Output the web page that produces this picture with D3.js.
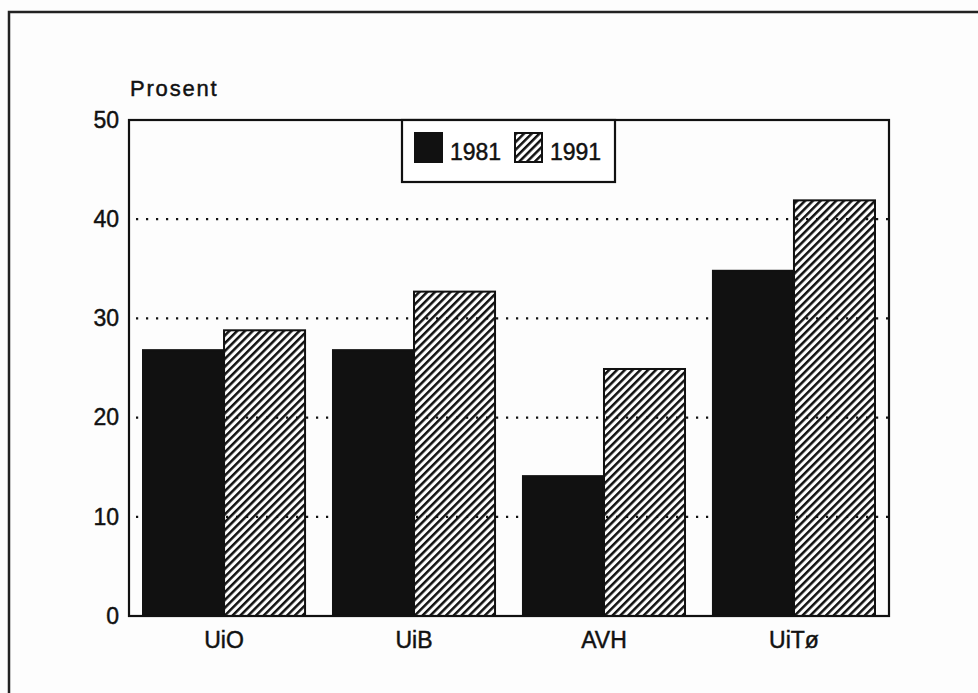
<!DOCTYPE html>
<html>
<head>
<meta charset="utf-8">
<script src="https://cdn.jsdelivr.net/npm/d3@7"></script>
<style>
  body { margin: 0; background: #fdfdfd; }
  svg { display: block; }
  text { font-family: "Liberation Sans", Arial, sans-serif; fill: #111; stroke: #111; stroke-width: 0.45px; }
</style>
</head>
<body>
<div id="chart"></div>
<script>
// data
const CATEGORIES = ["UiO", "UiB", "AVH", "UiTø"];
const SERIES = ["1981", "1991"];
const VALUES_1981 = [26.8, 26.8, 14.1, 34.8];
const VALUES_1991 = [28.8, 32.7, 24.9, 41.9];
const Y_TICKS = [0, 10, 20, 30, 40, 50];
const GRID_TICKS = [10, 20, 30, 40];

// frame
const FRAME_WIDTH = 978;
const FRAME_HEIGHT = 693;
const MARGINS = {left: 129, right: 89, top: 120, bottom: 77};

const VIS_WIDTH = FRAME_WIDTH - MARGINS.left - MARGINS.right;
const VIS_HEIGHT = FRAME_HEIGHT - MARGINS.top - MARGINS.bottom;

const FRAME = d3.select("#chart")
                .append("svg")
                  .attr("width", FRAME_WIDTH)
                  .attr("height", FRAME_HEIGHT);

// hatch pattern for 1991
FRAME.append("defs")
      .append("pattern")
        .attr("id", "hatch")
        .attr("patternUnits", "userSpaceOnUse")
        .attr("width", 5.5)
        .attr("height", 10)
        .attr("patternTransform", "rotate(45)")
      .append("rect")
        .attr("x", 0).attr("y", 0)
        .attr("width", 2.5).attr("height", 10)
        .attr("fill", "#111");

// outer page frame (left + top)
FRAME.append("path")
      .attr("d", "M9," + FRAME_HEIGHT + "V12H" + FRAME_WIDTH)
      .attr("fill", "none")
      .attr("stroke", "#222")
      .attr("stroke-width", 2.5);

const G = FRAME.append("g")
                .attr("transform", "translate(" + MARGINS.left + "," + MARGINS.top + ")");

// scales
const X_SCALE = d3.scaleBand()
                  .domain(CATEGORIES)
                  .range([0, VIS_WIDTH])
                  .paddingInner(0.147)
                  .paddingOuter(0.0737);

const X_INNER = d3.scaleBand()
                  .domain(SERIES)
                  .range([0, X_SCALE.bandwidth()]);

const Y_SCALE = d3.scaleLinear()
                  .domain([0, 50])
                  .range([VIS_HEIGHT, 0]);

// dotted gridlines
G.selectAll(".grid")
  .data(GRID_TICKS)
  .enter()
  .append("line")
    .attr("x1", 7)
    .attr("x2", VIS_WIDTH)
    .attr("y1", (d) => Y_SCALE(d))
    .attr("y2", (d) => Y_SCALE(d))
    .attr("stroke", "#111")
    .attr("stroke-width", 2.2)
    .attr("stroke-dasharray", "2.2,7.8");

// bars
const ROWS = CATEGORIES.map((c, i) => ({cat: c, values: [VALUES_1981[i], VALUES_1991[i]]}));

const groups = G.selectAll(".grp")
                .data(ROWS)
                .enter()
                .append("g")
                  .attr("transform", (d) => "translate(" + X_SCALE(d.cat) + ",0)");

groups.selectAll("rect")
      .data((d) => SERIES.map((s, j) => ({series: s, value: d.values[j]})))
      .enter()
      .append("rect")
        .attr("x", (d) => X_INNER(d.series))
        .attr("y", (d) => Y_SCALE(d.value))
        .attr("width", X_INNER.bandwidth())
        .attr("height", (d) => VIS_HEIGHT - Y_SCALE(d.value))
        .attr("fill", (d) => d.series === "1981" ? "#111" : "url(#hatch)")
        .attr("stroke", "#111")
        .attr("stroke-width", 2);

// plot box
G.append("rect")
  .attr("width", VIS_WIDTH)
  .attr("height", VIS_HEIGHT)
  .attr("fill", "none")
  .attr("stroke", "#111")
  .attr("stroke-width", 2.2);

// y axis
const yAxis = G.append("g")
                .call(d3.axisLeft(Y_SCALE).tickValues(Y_TICKS).tickSize(0).tickPadding(10))
                  .attr("font-size", "23px");
yAxis.select(".domain").remove();
yAxis.selectAll("text").attr("font-family", "Liberation Sans, Arial, sans-serif").attr("fill", "#111");

// x axis
const xAxis = G.append("g")
                .attr("transform", "translate(0," + VIS_HEIGHT + ")")
                .call(d3.axisBottom(X_SCALE).tickSize(0).tickPadding(16))
                  .attr("font-size", "23px");
xAxis.select(".domain").remove();
xAxis.selectAll("text").attr("font-family", "Liberation Sans, Arial, sans-serif").attr("fill", "#111");

// y axis title
FRAME.append("text")
      .attr("x", 130)
      .attr("y", 96)
      .attr("font-size", "22px")
      .attr("letter-spacing", "1.8px")
      .text("Prosent");

// legend
const LEGEND = FRAME.append("g").attr("transform", "translate(402,120)");
LEGEND.append("rect")
        .attr("width", 213)
        .attr("height", 62)
        .attr("fill", "#fff")
        .attr("stroke", "#111")
        .attr("stroke-width", 2.2);

const LEG_X = [13, 113];
const items = LEGEND.selectAll(".item")
                    .data(SERIES)
                    .enter()
                    .append("g")
                      .attr("transform", (d, i) => "translate(" + LEG_X[i] + ",13)");
items.append("rect")
      .attr("width", 27)
      .attr("height", 29)
      .attr("fill", (d) => d === "1981" ? "#111" : "url(#hatch)")
      .attr("stroke", "#111")
      .attr("stroke-width", 2);
items.append("text")
      .attr("x", 35)
      .attr("y", 27)
      .attr("font-size", "23px")
      .text((d) => d);
</script>
</body>
</html>
